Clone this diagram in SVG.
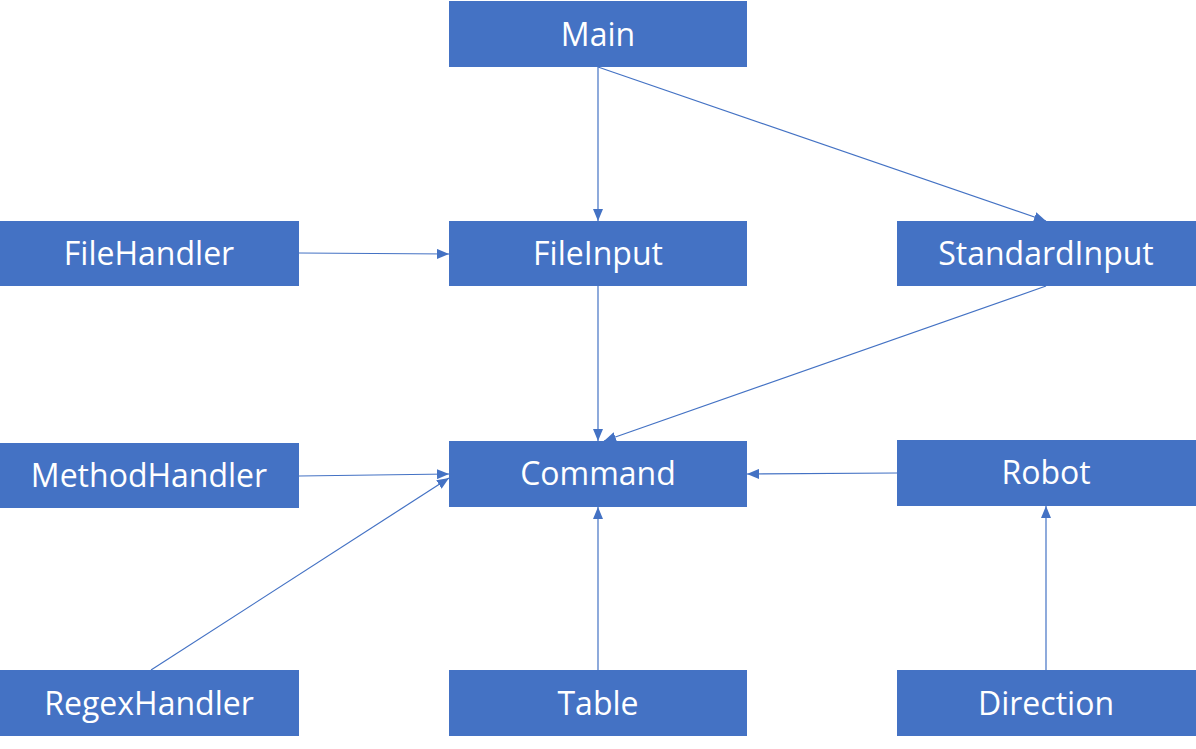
<svg xmlns="http://www.w3.org/2000/svg" width="1196" height="749" viewBox="0 0 1196 749">
<style>
.box{fill:#4472C4}
.lbl{fill:#fff;font-family:"Open Sans","Liberation Sans",sans-serif;font-size:32px;text-anchor:middle;dominant-baseline:central}
.c{stroke:#4472C4;stroke-width:1.2;fill:none;marker-end:url(#ah)}
</style>
<defs>
<marker id="ah" viewBox="0 0 12 10" refX="12" refY="5" markerWidth="12" markerHeight="10" markerUnits="userSpaceOnUse" orient="auto">
<path d="M0,0 L12,5 L0,10 Z" fill="#4472C4"/>
</marker>
</defs>
<rect width="1196" height="749" fill="#fff"/>
<g id="connectors">
<line class="c" x1="598" y1="67" x2="598" y2="221"/>
<line class="c" x1="598" y1="67" x2="1046" y2="221"/>
<line class="c" x1="299" y1="253" x2="449" y2="254"/>
<line class="c" x1="598" y1="286" x2="598" y2="441"/>
<line class="c" x1="1046" y1="286" x2="604" y2="441"/>
<line class="c" x1="299" y1="476" x2="449" y2="474"/>
<line class="c" x1="151" y1="670" x2="449" y2="478"/>
<line class="c" x1="598" y1="670" x2="598" y2="507"/>
<line class="c" x1="897" y1="473" x2="747" y2="474"/>
<line class="c" x1="1046" y1="670" x2="1046" y2="506"/>
</g>
<g id="main"><rect class="box" x="449" y="1" width="298" height="66"/><text class="lbl" x="598" y="33">Main</text></g>
<g id="filehandler"><rect class="box" x="0" y="221" width="299" height="65"/><text class="lbl" x="149" y="252">FileHandler</text></g>
<g id="fileinput"><rect class="box" x="449" y="221" width="298" height="65"/><text class="lbl" x="598" y="252">FileInput</text></g>
<g id="standardinput"><rect class="box" x="897" y="221" width="299" height="65"/><text class="lbl" x="1046" y="252">StandardInput</text></g>
<g id="methodhandler"><rect class="box" x="0" y="443" width="299" height="65"/><text class="lbl" x="149" y="474">MethodHandler</text></g>
<g id="command"><rect class="box" x="449" y="441" width="298" height="66"/><text class="lbl" x="598" y="472">Command</text></g>
<g id="robot"><rect class="box" x="897" y="440" width="299" height="66"/><text class="lbl" x="1046" y="471">Robot</text></g>
<g id="regexhandler"><rect class="box" x="0" y="670" width="299" height="66"/><text class="lbl" x="149" y="702">RegexHandler</text></g>
<g id="table"><rect class="box" x="449" y="670" width="298" height="66"/><text class="lbl" x="598" y="702">Table</text></g>
<g id="direction"><rect class="box" x="897" y="670" width="299" height="66"/><text class="lbl" x="1046" y="702">Direction</text></g>
</svg>
